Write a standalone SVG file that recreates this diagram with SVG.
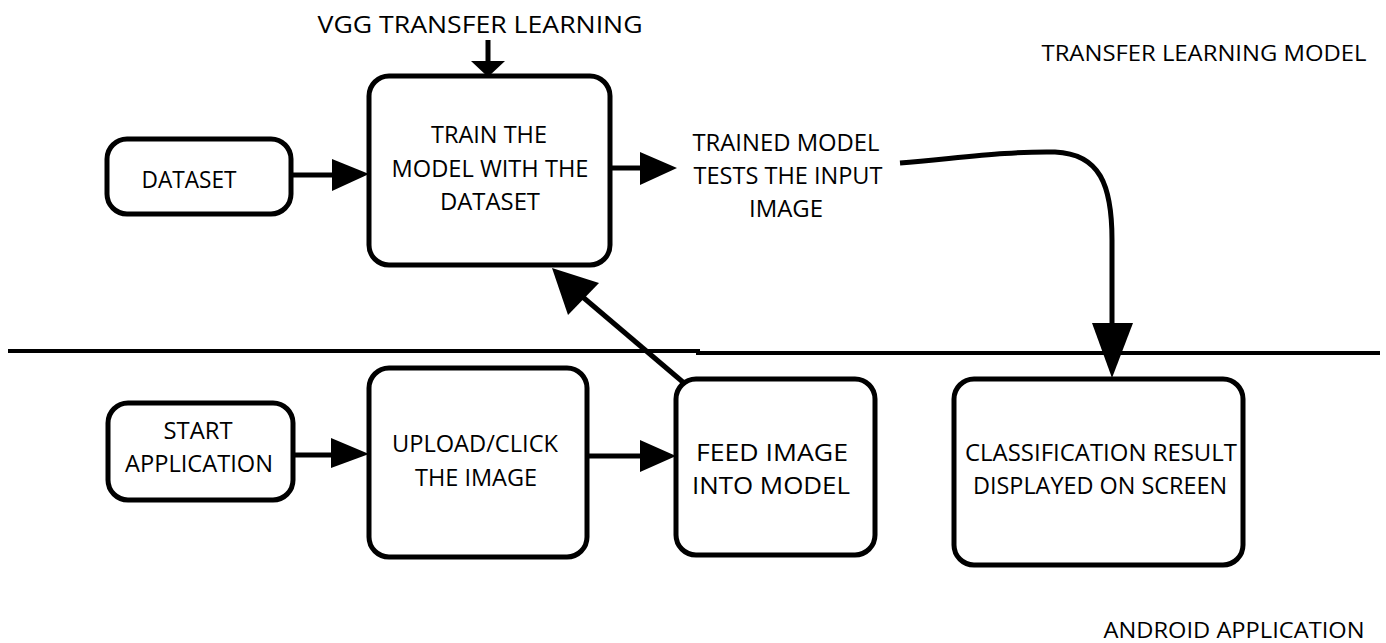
<svg xmlns="http://www.w3.org/2000/svg" width="1386" height="643" viewBox="0 0 1386 643">
  <defs>
    <style>
      .box { fill: #fff; stroke: #000; stroke-width: 5; }
      .line { fill: none; stroke: #000; stroke-width: 5; }
      .sep { fill: none; stroke: #000; stroke-width: 4; }
      .head { fill: #000; }
      text { font-family: "Open Sans", "Noto Sans", sans-serif; font-size: 24px; fill: #000; text-anchor: middle; }
      .title { font-size: 22px; }
    </style>
  </defs>
  <rect width="1386" height="643" fill="#fff"/>

  <!-- section divider -->
  <path class="sep" d="M8 351 H698 L698 353 H1380"/>

  <!-- section titles -->
  <text class="title" x="1204" y="61" textLength="325" lengthAdjust="spacingAndGlyphs">TRANSFER LEARNING MODEL</text>
  <text class="title" x="1234" y="638" textLength="261" lengthAdjust="spacingAndGlyphs">ANDROID APPLICATION</text>

  <g id="vgg">
    <text x="480" y="33" textLength="325" lengthAdjust="spacingAndGlyphs">VGG TRANSFER LEARNING</text>
  </g>

  <g id="dataset">
    <rect class="box" x="107" y="139" width="184" height="75" rx="20"/>
    <text x="189" y="188" textLength="95" lengthAdjust="spacingAndGlyphs">DATASET</text>
  </g>

  <g id="train">
    <rect class="box" x="369" y="76" width="241" height="189" rx="20"/>
    <text x="489" y="143" textLength="116" lengthAdjust="spacingAndGlyphs">TRAIN THE</text>
    <text x="490" y="177" textLength="197" lengthAdjust="spacingAndGlyphs">MODEL WITH THE</text>
    <text x="490" y="210" textLength="100" lengthAdjust="spacingAndGlyphs">DATASET</text>
  </g>

  <g id="trained">
    <text x="786" y="151" textLength="187" lengthAdjust="spacingAndGlyphs">TRAINED MODEL</text>
    <text x="788" y="184" textLength="189" lengthAdjust="spacingAndGlyphs">TESTS THE INPUT</text>
    <text x="786" y="217" textLength="74" lengthAdjust="spacingAndGlyphs">IMAGE</text>
  </g>

  <g id="start">
    <rect class="box" x="108" y="403" width="185" height="97" rx="20"/>
    <text x="198" y="439" textLength="69" lengthAdjust="spacingAndGlyphs">START</text>
    <text x="199" y="472" textLength="148" lengthAdjust="spacingAndGlyphs">APPLICATION</text>
  </g>

  <g id="upload">
    <rect class="box" x="369" y="368" width="218" height="189" rx="20"/>
    <text x="475" y="452" textLength="166" lengthAdjust="spacingAndGlyphs">UPLOAD/CLICK</text>
    <text x="476" y="486" textLength="122" lengthAdjust="spacingAndGlyphs">THE IMAGE</text>
  </g>

  <g id="feed">
    <rect class="box" x="676" y="379" width="199" height="176" rx="20"/>
    <text x="772" y="461" textLength="152" lengthAdjust="spacingAndGlyphs">FEED IMAGE</text>
    <text x="771" y="494" textLength="158" lengthAdjust="spacingAndGlyphs">INTO MODEL</text>
  </g>

  <g id="result">
    <rect class="box" x="954" y="379" width="289" height="186" rx="20"/>
    <text x="1101" y="461" textLength="272" lengthAdjust="spacingAndGlyphs">CLASSIFICATION RESULT</text>
    <text x="1100" y="494" textLength="254" lengthAdjust="spacingAndGlyphs">DISPLAYED ON SCREEN</text>
  </g>

  <g id="connectors">
    <!-- VGG input into training -->
    <path class="line" d="M488 40 V62"/>
    <polygon class="head" points="471,61 505,61 488,77"/>
    <!-- dataset to training -->
    <path class="line" d="M291 175 H334"/>
    <polygon class="head" points="332,159 332,191 369,174"/>
    <!-- training to trained model -->
    <path class="line" d="M610 168 H642"/>
    <polygon class="head" points="640,152 640,185 677,168"/>
    <!-- trained model to result -->
    <path class="line" d="M900 163 C960 158 1010 151 1055 152 C1100 154 1112 185 1112 240 V325"/>
    <polygon class="head" points="1092,323 1133,323 1112,378"/>
    <!-- feed image back to model -->
    <path class="line" d="M684 383 L578 293"/>
    <polygon class="head" points="552,268 599,283 568,315"/>
    <!-- start to upload -->
    <path class="line" d="M293 455 H333"/>
    <polygon class="head" points="331,438 331,468 369,454"/>
    <!-- upload to feed -->
    <path class="line" d="M587 456 H642"/>
    <polygon class="head" points="640,440 640,472 676,456"/>
  </g>
</svg>
